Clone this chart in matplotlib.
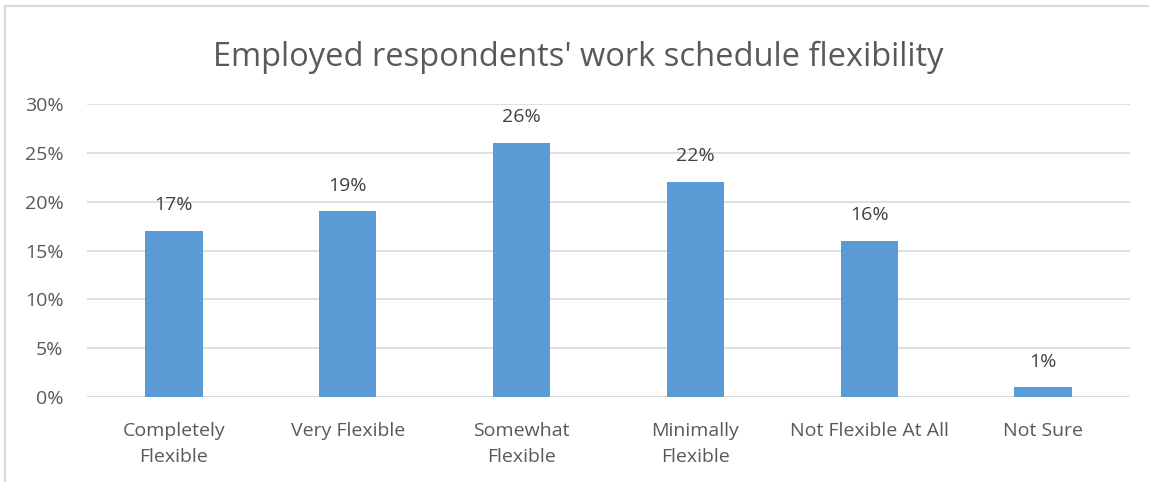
import matplotlib
matplotlib.use("Agg")
import matplotlib.pyplot as plt
from matplotlib.ticker import PercentFormatter

categories = ["Completely\nFlexible", "Very Flexible", "Somewhat\nFlexible",
              "Minimally\nFlexible", "Not Flexible At All", "Not Sure"]
shares = [17, 19, 26, 22, 16, 1]
y_ticks = [0, 5, 10, 15, 20, 25, 30]

plt.rcParams["font.family"] = ["Open Sans", "DejaVu Sans"]

fig = plt.figure(figsize=(11.49, 4.82), dpi=100)
W, H = 1149, 482
ax = fig.add_axes([87 / W, 1 - 397 / H, (1130 - 87) / W, (397 - 104) / H])

x = range(len(categories))
ax.bar(x, shares, width=0.33, color="#5B9BD5", zorder=3)
for xi, v in zip(x, shares):
    ax.annotate(f"{v}%", (xi, v), xytext=(0, 12), textcoords="offset points",
                ha="center", va="bottom", fontsize=14, color="#404040")

ax.set_xlim(-0.5, len(categories) - 0.5)
ax.set_ylim(0, 30)
ax.set_yticks(y_ticks)
ax.yaxis.set_major_formatter(PercentFormatter(decimals=0))
ax.set_xticks(list(x))
ax.set_xticklabels(categories, fontsize=14, color="#595959", linespacing=1.6)
ax.tick_params(axis="y", labelsize=14, labelcolor="#595959", length=0, pad=17)
ax.tick_params(axis="x", length=0, pad=18)
ax.grid(axis="y", color="#D9D9D9", linewidth=1.2, zorder=0)
for s in ax.spines.values():
    s.set_visible(False)
ax.axhline(0, color="#D9D9D9", linewidth=1.5, zorder=2)

fig.text(578 / W, 1 - 57 / H, "Employed respondents' work schedule flexibility",
         ha="center", va="center", fontsize=23.5, color="#595959")

# chart area frame (left and top edges)
fig.add_artist(plt.Line2D([5 / W, 5 / W], [0, 1 - 6 / H], transform=fig.transFigure,
                          color="#D9D9D9", linewidth=1.5))
fig.add_artist(plt.Line2D([5 / W, 1], [1 - 6 / H, 1 - 6 / H], transform=fig.transFigure,
                          color="#D9D9D9", linewidth=1.5))

fig.savefig("out.png", dpi=100, facecolor="white")
